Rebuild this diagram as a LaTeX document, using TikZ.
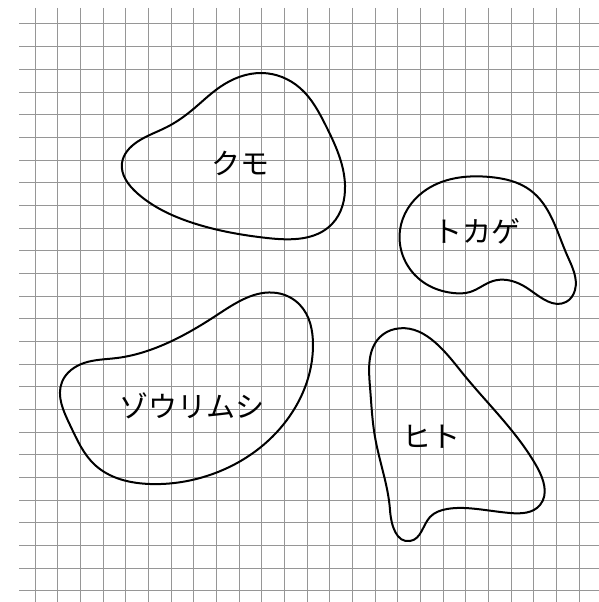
\documentclass[tikz,border=0pt]{standalone}
\usepackage{fontspec}
\usetikzlibrary{hobby}
\newfontfamily\jp{Noto Sans CJK JP}
\begin{document}
\begin{tikzpicture}[x=1pt,y=-1pt,
  gridline/.style={draw={rgb,255:red,150;green,150;blue,150},line width=1pt},
  blob/.style={draw=black,line width=2pt,use Hobby shortcut,closed=true},
  lbl/.style={font=\jp\fontsize{29}{34}\selectfont,inner sep=0pt}]
\useasboundingbox (0,0) rectangle (599,602);
\foreach \k in {0,...,24} \draw[gridline] ({35+22.667*\k},8) -- ({35+22.667*\k},602);
\foreach \k in {0,...,25} \draw[gridline] (19,{24+22.667*\k}) -- (599,{24+22.667*\k});
% spider
\draw[blob] (262,73) .. (300,88) .. (326,126) .. (345,185) .. (332,224) .. (267,238) .. (193,223) .. (137,193) .. (122,163) .. (137,142) .. (167,127) .. (191,111) .. (220,87);
% lizard
\draw[blob] (490,177) .. (530,190) .. (567,255) .. (575,290) .. (566,302) .. (530,290) .. (507,280) .. (493,281) .. (470,292) .. (453,293) .. (423,282) .. (400,230) .. (423,192);
% paramecium
\draw[blob] (277,293) .. (300,305) .. (313,345) .. (283,425) .. (200,478) .. (150,484) .. (95,465) .. (70,425) .. (62,382) .. (84,363) .. (117,358) .. (150,350) .. (217,315);
% human
\draw[blob] (395,329) .. (460,370) .. (537,467) .. (540,505) .. (510,513) .. (477,509) .. (447,509) .. (430,517) .. (410,541) .. (390,510) .. (375,437) .. (370,387) .. (380,337);
\node[lbl] (kumo) at (240,163) {クモ};
\node[lbl] (tokage) at (477,231) {トカゲ};
\node[lbl] (zourimushi) at (192,406) {ゾウリムシ};
\node[lbl] (hito) at (431,437) {ヒト};
\end{tikzpicture}
\end{document}
